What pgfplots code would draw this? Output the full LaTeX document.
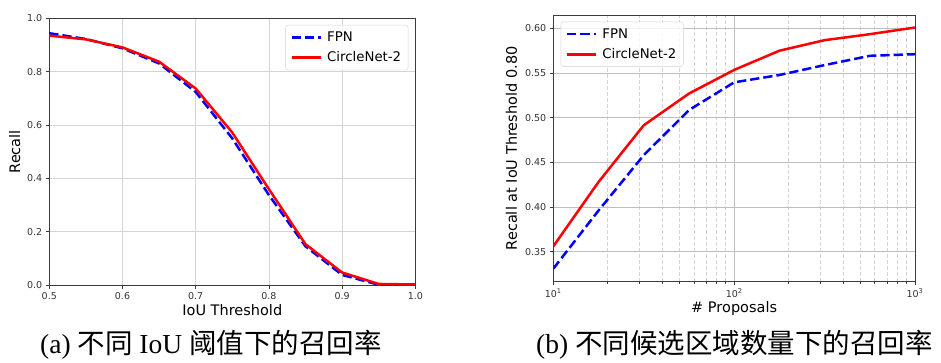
\documentclass[border=0pt]{standalone}
\usepackage{pgfplots}
\pgfplotsset{compat=1.18}
\usepackage{fontspec}
\setmainfont{Liberation Serif}
\newfontfamily\dv{DejaVu Sans}
\newfontfamily\cjk{Noto Sans CJK SC}
\definecolor{gridgray}{RGB}{212,212,212}
\definecolor{gridmajor}{RGB}{190,190,190}
\definecolor{spine}{RGB}{60,60,60}
\pgfplotsset{
  mystyle/.style={
    scale only axis,
    tick align=outside,
    major tick length=3.5pt,
    minor tick length=2pt,
    tick pos=left,
    axis line style={spine, line width=0.8pt},
    tick style={spine, line width=0.8pt},
    tick label style={font=\dv\fontsize{9.5}{11}\selectfont, text=black!80},
    label style={font=\dv\fontsize{14.5}{17}\selectfont},
    /pgf/number format/assume math mode=true,
    legend style={font=\dv\fontsize{13.3}{15}\selectfont, draw=black!18, rounded corners=2.5pt,
      fill=white, fill opacity=0.8, text opacity=1, inner xsep=5pt, inner ysep=4.5pt,
      row sep=5pt, column sep=3pt, cells={anchor=west}},
    legend image code/.code={\draw[##1] (0pt,0pt) -- (29pt,0pt);},
  },
  fpn/.style={blue, line width=2.5pt, dash pattern=on 9.25pt off 4pt},
  cn/.style={red, line width=2.5pt, line join=round},
}
\begin{document}
\begin{tikzpicture}
\path[use as bounding box] (0,0) rectangle (941pt,363pt);
\clip (0,0) rectangle (941pt,363pt);

\begin{axis}[mystyle,
  at={(49.3pt,77.7pt)}, anchor=south west, width=366pt, height=267pt,
  xmin=0.5, xmax=1, ymin=0, ymax=1,
  xtick={0.5,0.6,0.7,0.8,0.9,1.0}, ytick={0,0.2,0.4,0.6,0.8,1.0},
  xticklabel style={/pgf/number format/fixed, /pgf/number format/fixed zerofill, /pgf/number format/precision=1},
  yticklabel style={/pgf/number format/fixed, /pgf/number format/fixed zerofill, /pgf/number format/precision=1},
  grid=major, major grid style={gridgray, line width=0.8pt},
  xlabel={IoU Threshold}, ylabel={Recall},
  xlabel style={at={(axis description cs:0.5,0)}, anchor=base, yshift=-30.7pt},
  ylabel style={at={(axis description cs:-0.080,0.5)}, anchor=base},
  legend style={at={(axis description cs:0.981,0.975)}, anchor=north east},
]
\addplot[fpn] table {
x y
0.50 0.944
0.55 0.9225
0.60 0.8875
0.65 0.831
0.70 0.724
0.75 0.550
0.80 0.338
0.85 0.146
0.90 0.039
0.95 0.002
1.00 0.000
};
\addlegendentry{FPN}
\addplot[cn] table {
x y
0.50 0.935
0.55 0.921
0.60 0.891
0.65 0.8375
0.70 0.737
0.75 0.572
0.80 0.360
0.85 0.154
0.90 0.048
0.95 0.005
1.00 0.003
};
\addlegendentry{CircleNet-2}
\end{axis}

\begin{axis}[mystyle,
  at={(553.3pt,81.3pt)}, anchor=south west, width=361.7pt, height=266.7pt,
  xmode=log, xmin=10, xmax=1000, ymin=0.3164, ymax=0.615,
  xtick={10,100,1000}, xticklabels={10\textsuperscript{1},10\textsuperscript{2},10\textsuperscript{3}},
  minor xtick={20,30,40,50,60,70,80,90,200,300,400,500,600,700,800,900},
  ytick={0.35,0.40,0.45,0.50,0.55,0.60},
  yticklabel style={/pgf/number format/fixed, /pgf/number format/fixed zerofill, /pgf/number format/precision=2},
  grid=both, major grid style={gridmajor, line width=0.8pt},
  minor grid style={gridgray, line width=0.8pt, dash pattern=on 4pt off 2pt},
  xlabel={\# Proposals}, ylabel={Recall at IoU Threshold 0.80},
  xlabel style={at={(axis description cs:0.5,0)}, anchor=base, yshift=-30.7pt},
  ylabel style={at={(axis description cs:-0.1004,0.5)}, anchor=base},
  legend style={at={(axis description cs:0.0205,0.975)}, anchor=north west},
]
\addplot[fpn] table {
x y
10 0.331
17.78 0.396
31.62 0.458
56.23 0.5085
100 0.5396
177.83 0.5478
316.23 0.5589
562.34 0.5693
1000 0.5711
};
\addlegendentry{FPN}
\addplot[cn] table {
x y
10 0.356
17.78 0.428
31.62 0.4915
56.23 0.527
100 0.5535
177.83 0.575
316.23 0.5868
562.34 0.5935
1000 0.601
};
\addlegendentry{CircleNet-2}
\end{axis}

\node[anchor=base west, inner sep=0pt, font=\fontsize{27.5}{30}\selectfont] at (40pt,9pt)
  {(a) {\cjk 不同} IoU {\cjk 阈值下的召回率}};
\node[anchor=base west, inner sep=0pt, font=\fontsize{27.5}{30}\selectfont] at (536pt,9pt)
  {(b) {\cjk 不同候选区域数量下的召回率}};
\end{tikzpicture}
\end{document}
